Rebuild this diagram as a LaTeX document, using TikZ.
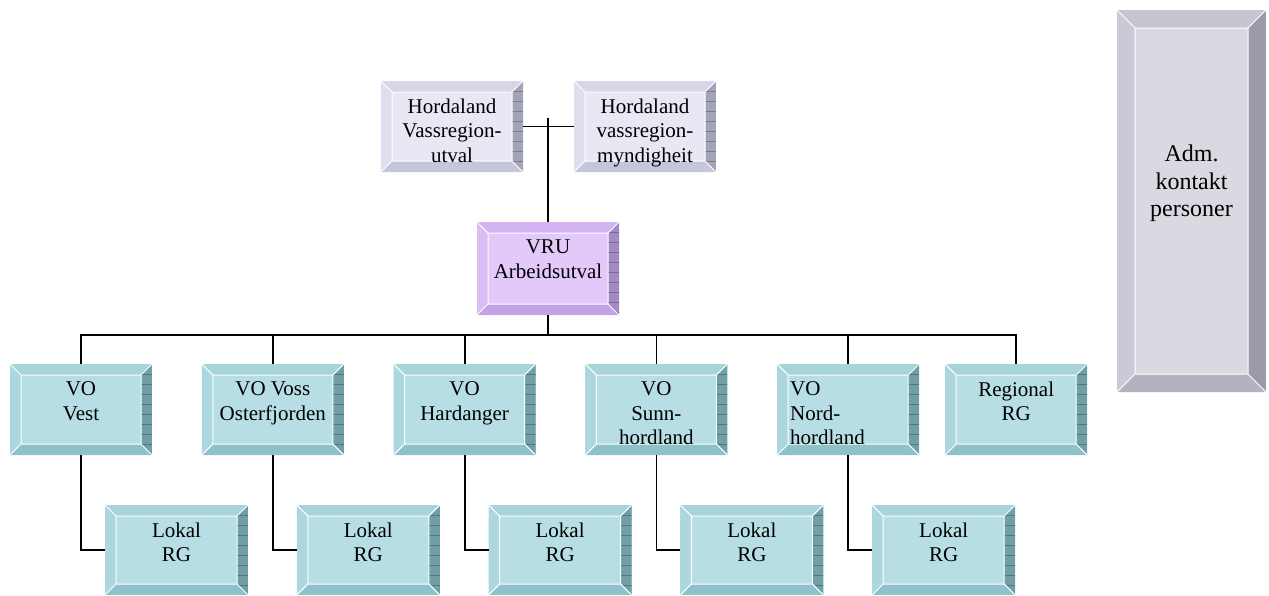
\documentclass[tikz,border=0pt]{standalone}
\usepackage{fontspec}
\setmainfont{Liberation Serif}
\usetikzlibrary{positioning, calc}

\definecolor{lavface}{HTML}{E8E8F4}
\definecolor{lavtop}{HTML}{D6D6E8}
\definecolor{lavleft}{HTML}{DEDEEE}
\definecolor{lavbot}{HTML}{C6C6DA}
\definecolor{lavright}{HTML}{A4A4B8}
\definecolor{purface}{HTML}{E2C9F9}
\definecolor{purtop}{HTML}{D3B3F1}
\definecolor{purleft}{HTML}{D9BEF5}
\definecolor{purbot}{HTML}{C3A3E5}
\definecolor{purright}{HTML}{A48AC4}
\definecolor{tealface}{HTML}{B7DEE4}
\definecolor{tealtop}{HTML}{A7D3DA}
\definecolor{tealleft}{HTML}{ADD7DE}
\definecolor{tealbot}{HTML}{8EC2CA}
\definecolor{tealright}{HTML}{709FA7}
\definecolor{grayface}{HTML}{D9D9E1}
\definecolor{graytop}{HTML}{C6C6D2}
\definecolor{grayleft}{HTML}{CACAD6}
\definecolor{graybot}{HTML}{B2B2C0}
\definecolor{grayright}{HTML}{9A9AAA}

\newcommand{\bevelcols}[1]{\colorlet{btop}{#1top}\colorlet{bleft}{#1left}\colorlet{bbot}{#1bot}\colorlet{bright}{#1right}\colorlet{bhatch}{#1right!75!black}}
\newcommand{\bev}{11pt}

\begin{document}
\begin{tikzpicture}[x=1pt, y=-1pt, line width=1.8pt,
  box/.style={rectangle, inner sep=0pt, outer sep=0pt, minimum width=142pt, minimum height=91pt,
    path picture={
      \path (path picture bounding box.north west) coordinate (p1)
            (path picture bounding box.north east) coordinate (p2)
            (path picture bounding box.south east) coordinate (p3)
            (path picture bounding box.south west) coordinate (p4);
      \path ([shift={(\bev,-\bev)}]p1) coordinate (q1)
            ([shift={(-\bev,-\bev)}]p2) coordinate (q2)
            ([shift={(-\bev,\bev)}]p3) coordinate (q3)
            ([shift={(\bev,\bev)}]p4) coordinate (q4);
      \fill[btop] (p1) -- (p2) -- (q2) -- (q1) -- cycle;
      \fill[bbot] (p3) -- (p4) -- (q4) -- (q3) -- cycle;
      \fill[bleft] (p4) -- (p1) -- (q1) -- (q4) -- cycle;
      \begin{scope}
        \clip (p2) -- (p3) -- (q3) -- (q2) -- cycle;
        \fill[bright] (p2) -- (p3) -- (q3) -- (q2) -- cycle;
        \foreach \k in {1,...,40}
          \draw[bhatch, line width=0.6pt] ([yshift=-\k*10pt]p2) -- ++(-20pt,0pt);
      \end{scope}
      \draw[white, line width=1pt] (q1) rectangle (q3)
        (p1) -- (q1) (p2) -- (q2) (p3) -- (q3) (p4) -- (q4);
    }},
  lav/.style={box, fill=lavface, /utils/exec={\bevelcols{lav}}},
  pur/.style={box, fill=purface, /utils/exec={\bevelcols{pur}}},
  teal/.style={box, fill=tealface, /utils/exec={\bevelcols{teal}}},
  grey/.style={box, fill=grayface, /utils/exec={\bevelcols{gray}\colorlet{bhatch}{grayright}}},
  lokal/.style={teal, minimum width=143pt, minimum height=90pt},
  txt/.style={anchor=north, yshift=-17pt, inner sep=0pt, align=center,
    font=\fontsize{21}{24.5}\selectfont}]
\useasboundingbox (0,0) rectangle (1269,595);

% top level
\node[lav, label={[txt]north:Hordaland\\Vassregion-\\utval}] (utval) at (452,126.5) {};
\node[lav, label={[txt]north:Hordaland\\vassregion-\\myndigheit}] (mynd) at (645,126.5) {};
\node[pur, minimum height=93pt, label={[txt]north:VRU\\Arbeidsutval}] (vru) at (548,268.5) {};

% VO row
\node[teal, label={[txt]north:VO\\Vest}] (vest) at (81,409.5) {};
\node[teal, right=49.8pt of vest, label={[txt]north:VO Voss\\Osterfjorden}] (voss) {};
\node[teal, right=49.8pt of voss, label={[txt]north:VO\\Hardanger}] (hard) {};
\node[teal, right=49.8pt of hard, label={[txt]north:VO\\Sunn-\\hordland}] (sunn) {};
\node[teal, right=49.8pt of sunn, label={[txt, anchor=north west, xshift=12pt, align=left]north west:VO\\Nord-\\hordland}] (nord) {};
\node[teal, right=26pt of nord, label={[txt]north:Regional\\RG}] (regional) {};

% lokal RG
\node[lokal, below right=50pt and -47pt of vest, label={[txt]north:Lokal\\RG}] (lok1) {};
\node[lokal, below right=50pt and -47pt of voss, label={[txt]north:Lokal\\RG}] (lok2) {};
\node[lokal, below right=50pt and -47pt of hard, label={[txt]north:Lokal\\RG}] (lok3) {};
\node[lokal, below right=50pt and -47pt of sunn, label={[txt]north:Lokal\\RG}] (lok4) {};
\node[lokal, below right=50pt and -47pt of nord, label={[txt]north:Lokal\\RG}] (lok5) {};

% side box
\node[grey, minimum width=149pt, minimum height=382pt, /utils/exec={\renewcommand{\bev}{18pt}},
  label={[txt, yshift=-117pt, font=\fontsize{24}{27.5}\selectfont]north:Adm.\\kontakt\\personer}] (adm) at (1191.5,201) {};

% lines
\coordinate (cross) at (548,118);
\coordinate (bus) at (548,335);
\draw (utval.east) -- (mynd.west);
\draw (cross) -- (vru.north);
\draw (vru.south) -- (bus);
\draw (vest.north) |- (bus) -| (regional.north);
\foreach \n in {voss, hard, sunn, nord}
  \draw (\n.north) -- (\n.north |- bus);
\foreach \a/\b in {vest/lok1, voss/lok2, hard/lok3, sunn/lok4, nord/lok5}
  \draw (\a.south) |- (\b.west);
\end{tikzpicture}
\end{document}
